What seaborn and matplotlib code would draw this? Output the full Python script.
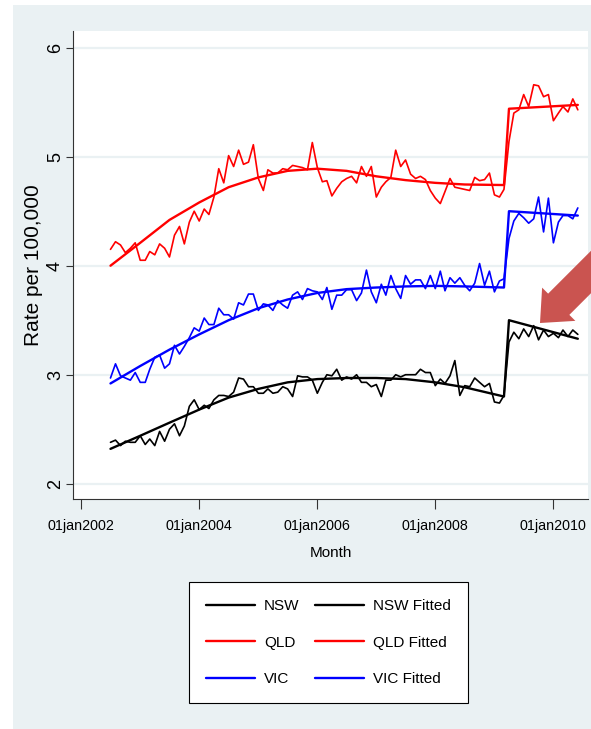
import numpy as np
import pandas as pd
import matplotlib
matplotlib.use('Agg')
import matplotlib.pyplot as plt
import seaborn as sns
from matplotlib.patches import Rectangle, FancyArrow

# ---------------- data ----------------
months = pd.date_range('2002-07-01', periods=96, freq='MS')

nsw = [2.38, 2.40, 2.35, 2.39, 2.38, 2.38, 2.44, 2.36, 2.41, 2.35,
       2.48, 2.39, 2.50, 2.55, 2.44, 2.53,
       2.71, 2.77, 2.68, 2.72, 2.69, 2.77, 2.81, 2.81, 2.80, 2.84,
       2.97, 2.96, 2.89, 2.89, 2.83, 2.83, 2.87, 2.83, 2.84, 2.89,
       2.87, 2.80, 2.99, 2.98, 2.98, 2.95, 2.83, 2.93, 3.00, 2.99,
       3.05, 2.95,
       2.98, 2.96, 3.00, 2.93, 2.93, 2.89, 2.91, 2.80, 2.95, 2.95,
       3.00, 2.98, 3.00, 3.00, 3.00, 3.05, 3.02, 3.02, 2.90, 2.96,
       2.92, 2.99, 3.13, 2.81, 2.90, 2.89, 2.97, 2.93, 2.89, 2.92,
       2.75, 2.74, 2.81,
       3.30, 3.39, 3.33, 3.42, 3.35, 3.45, 3.32, 3.41, 3.35, 3.38,
       3.34, 3.41, 3.35, 3.41, 3.37]

qld = [4.15, 4.22, 4.19, 4.12, 4.16, 4.21, 4.05, 4.05, 4.13, 4.10,
       4.20, 4.16, 4.08, 4.28, 4.36, 4.20, 4.40, 4.50, 4.41, 4.52,
       4.47, 4.63, 4.89, 4.76, 5.01, 4.91, 5.06, 4.93, 4.95, 5.11,
       4.80, 4.69, 4.88, 4.85, 4.85, 4.89, 4.88, 4.92, 4.91, 4.90,
       4.88, 5.13, 4.90, 4.77, 4.78, 4.64, 4.71,
       4.77, 4.80, 4.82, 4.76, 4.91, 4.82, 4.91, 4.63, 4.72, 4.77,
       4.81, 5.06, 4.91, 4.97, 4.84, 4.80, 4.82, 4.79, 4.69, 4.62,
       4.57, 4.68, 4.80, 4.72, 4.71, 4.70, 4.69, 4.81, 4.78, 4.79,
       4.85, 4.65, 4.63, 4.70,
       5.14, 5.40, 5.43, 5.57, 5.46, 5.66, 5.65, 5.55, 5.57, 5.33,
       5.40, 5.46, 5.41, 5.53, 5.43]

vic = [2.97, 3.10, 2.99, 2.97, 2.95, 3.02, 2.93, 2.93, 3.05, 3.16,
       3.18, 3.06, 3.10, 3.27, 3.19, 3.26, 3.34, 3.43, 3.40, 3.52,
       3.46, 3.46, 3.61, 3.55,
       3.55, 3.51, 3.66, 3.64, 3.74, 3.74, 3.59, 3.65, 3.64, 3.59,
       3.68, 3.64, 3.61, 3.73, 3.76, 3.69, 3.79, 3.77, 3.76, 3.69,
       3.80, 3.60, 3.73, 3.73,
       3.78, 3.78, 3.68, 3.75, 3.96, 3.76, 3.66, 3.83, 3.73, 3.91,
       3.79, 3.70, 3.91, 3.83, 3.87, 3.87, 3.79, 3.91, 3.79, 3.95,
       3.77, 3.89, 3.84, 3.89, 3.82, 3.77, 3.84, 4.02, 3.82, 3.95,
       3.76, 3.86, 3.88,
       4.25, 4.41, 4.48, 4.44, 4.39, 4.43, 4.63, 4.31, 4.62, 4.21,
       4.40, 4.46, 4.46, 4.43, 4.53]

# fitted values read at these month positions
fit_idx = [0, 6, 12, 18, 24, 30, 36, 42, 48, 54, 60, 66, 72, 80, 81, 95]
nsw_fit = [2.32, 2.44, 2.56, 2.68, 2.79, 2.87, 2.93, 2.96, 2.97, 2.97,
           2.96, 2.93, 2.885, 2.80, 3.50, 3.33]
qld_fit = [4.00, 4.21, 4.42, 4.58, 4.72, 4.81, 4.87, 4.89, 4.87, 4.82,
           4.785, 4.76, 4.745, 4.74, 5.44, 5.475]
vic_fit = [2.92, 3.08, 3.23, 3.37, 3.50, 3.61, 3.69, 3.75, 3.785, 3.80,
           3.81, 3.815, 3.81, 3.80, 4.50, 4.46]

series_names = ['NSW', 'QLD', 'VIC']
fitted_names = ['NSW Fitted', 'QLD Fitted', 'VIC Fitted']
series_colors = ['#000000', '#FF0000', '#0000FF']

xtick_dates = ['2002-01-01', '2004-01-01', '2006-01-01', '2008-01-01', '2010-01-01']
xtick_labels = ['01jan2002', '01jan2004', '01jan2006', '01jan2008', '01jan2010']
ytick_vals = [2, 3, 4, 5, 6]
ytick_labels = ['2', '3', '4', '5', '6']
x_title = 'Month'
y_title = 'Rate per 100,000'

# ---------------- style ----------------
sns.set_theme(style='white')
regular = ['Liberation Sans', 'DejaVu Sans']
plt.rcParams['font.family'] = regular

W, H = 591, 729
fig = plt.figure(figsize=(W / 100, H / 100), dpi=100)
fig.patch.set_facecolor('white')
bg = '#EAF1F3'
fig.add_artist(Rectangle((13 / W, 0), 1 - 13 / W, 1 - 5 / H, transform=fig.transFigure,
                         facecolor=bg, edgecolor='none', zorder=-10))

ax = fig.add_axes([73 / W, 1 - 499 / H, 515 / W, 468 / H])
ax.set_facecolor('white')

fit_dates = months[fit_idx]
raw_series = [nsw, qld, vic]
fit_series = [nsw_fit, qld_fit, vic_fit]
for vals, col, name in zip(raw_series, series_colors, series_names):
    sns.lineplot(x=months, y=vals, color=col, lw=1.2, ax=ax, label=name)
for vals, col, name in zip(fit_series, series_colors, fitted_names):
    sns.lineplot(x=fit_dates, y=vals, color=col, lw=1.7, ax=ax, label=name)

ax.set_xlim(pd.Timestamp('2001-11-11'), pd.Timestamp('2010-08-03'))
ax.set_ylim(1.86, 6.153)

ax.set_xticks(pd.to_datetime(xtick_dates))
ax.set_xticklabels(xtick_labels, fontsize=10.3, color='black')
ax.set_yticks(ytick_vals)
ax.set_yticklabels(ytick_labels, rotation=90, va='center', fontsize=13, color='black')

ax.tick_params(axis='x', bottom=True, length=7.5, width=0.8, color='#333333', pad=7)
ax.tick_params(axis='y', left=True, length=5, width=0.8, color='#333333', pad=1.5)

ax.yaxis.grid(True, color=bg, lw=1.6)
ax.xaxis.grid(False)
ax.set_axisbelow(True)
for s in ['top', 'right']:
    ax.spines[s].set_visible(False)
for s in ['left', 'bottom']:
    ax.spines[s].set_color('#333333')
    ax.spines[s].set_linewidth(0.8)

ax.set_ylabel(y_title, fontsize=15, color='black')
ax.yaxis.set_label_coords(-0.0585, 0.5)
ax.set_xlabel(x_title, fontsize=11, color='black')
ax.xaxis.set_label_coords(0.5, -0.1)

handles, labels = ax.get_legend_handles_labels()
if ax.get_legend() is not None:
    ax.get_legend().remove()
leg = fig.legend(handles, labels, loc='upper left',
                 bbox_to_anchor=(189.3 / W, 1 - 582.3 / H), ncol=2,
                 frameon=True, fancybox=False, edgecolor='black', facecolor='white',
                 framealpha=1, prop={'size': 11},
                 handlelength=3.2, handletextpad=0.6, columnspacing=1.0,
                 labelspacing=1.48, borderpad=1.1, borderaxespad=0)
leg.get_frame().set_linewidth(0.8)
for t in leg.get_texts():
    t.set_color('black')
for h in leg.legend_handles:
    h.set_linewidth(1.7)

# red annotation arrow (pixel geometry converted to inches)
arrow = FancyArrow(6.40, (H - 223) / 100, -1.0, -1.0, width=0.30, head_width=0.47,
                   head_length=0.265, length_includes_head=True,
                   transform=fig.dpi_scale_trans, facecolor='#CA5450',
                   edgecolor='none', zorder=30, clip_on=False)
fig.add_artist(arrow)

fig.savefig('out.png', dpi=100)
